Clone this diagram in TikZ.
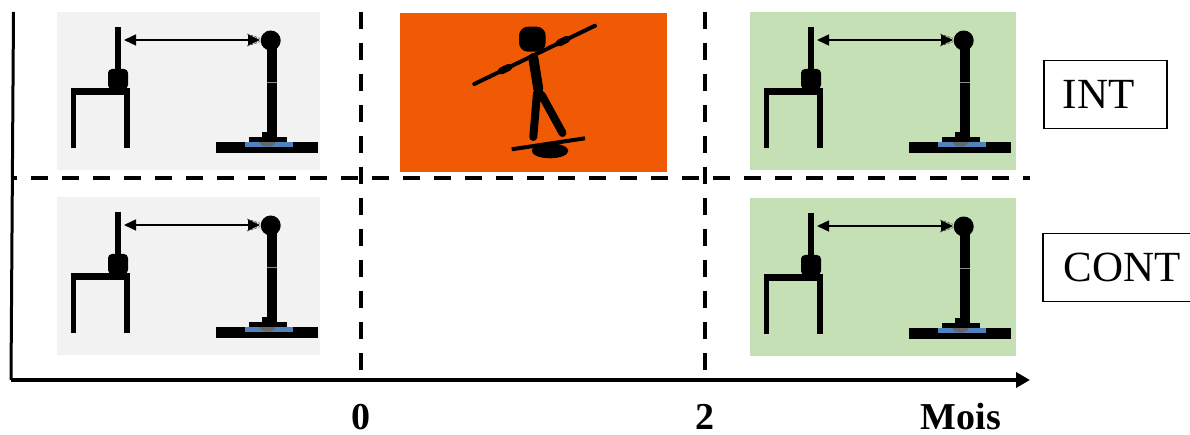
\documentclass[tikz,border=0pt]{standalone}
\usepackage{fontspec}
\setmainfont{Liberation Serif}
\usetikzlibrary{arrows.meta,positioning}

\definecolor{panelgray}{RGB}{242,242,242}
\definecolor{panelgreen}{RGB}{197,224,180}
\definecolor{panelorange}{RGB}{241,90,4}
\definecolor{padblue}{RGB}{80,130,190}

\tikzset{
  panel/.style={anchor=north west, inner sep=0pt, minimum width=263pt, minimum height=158pt},
  tagbox/.style={draw, line width=1.5pt, anchor=north west, align=left, inner ysep=0pt,
    minimum height=68pt, font=\fontsize{43}{50}\selectfont},
  cut/.style={line width=3.6pt, dash pattern=on 17pt off 14pt},
  tick/.style={anchor=base, inner sep=0pt, font=\fontsize{38}{44}\selectfont\bfseries},
  posture/.pic={
    % chair
    \fill (58,15) rectangle (63.5,60);
    \fill[rounded corners=4pt] (51,57) rectangle (71,77);
    \fill (14,76) rectangle (73,83);
    \fill (14,78) rectangle (19,136);
    \fill (67,78) rectangle (73,136);
    % subject standing on the plate
    \fill (210,36) rectangle (219.5,124);
    \draw[black!45, line width=0.6pt] (210,70) -- (219.5,70);
    \fill (213.7,28.5) circle (10);
    \fill (204.7,119.7) rectangle (219.7,125);
    \fill (158.7,130.3) rectangle (261.3,141.3);
    \fill[padblue] (188,130.3) rectangle (235.7,134.7);
    \fill[black!60] (210.5,130) ellipse (8 and 4.5);
    \fill (192.3,124.7) rectangle (229.7,129.7);
    % distance chair -- eyes
    \coordinate (-back) at (67,28);
    \coordinate (-eye) at (203,28);
    \draw[line width=1.5pt, {Triangle[length=12pt,width=11pt]}-{Triangle[length=12pt,width=11pt]}] (-back) -- (-eye);
    \draw[black!70, line width=0.8pt, dash pattern=on 2.5pt off 1.5pt] (190,22) -- (203,26.3) (190,34) -- (203,29.7);
  },
  balance/.pic={
    \fill[rounded corners=9pt] (119,13.7) rectangle (145.7,38.7);
    \draw[line width=4pt, line cap=round] (74.3,71) -- (195,12.7);
    \draw[line width=7pt, line cap=round] (101.4,57.9) -- (108.6,54.4) (159.4,29.9) -- (166.6,26.4);
    \draw[line width=10pt, line cap=round] (133.3,45) -- (138.3,76);
    \draw[line width=8pt, line cap=round] (137,80) -- (133.3,124) (141.7,82) -- (162.5,120);
    \fill (150,137.8) ellipse (18.3 and 7.5);
    \draw[line width=4pt] (111.7,136.3) -- (185,125.3);
  }
}

\begin{document}
\begin{tikzpicture}[x=1pt, y=-1pt]
    \useasboundingbox (0,0) rectangle (1190,435);

    % panels
    \node[panel, fill=panelgray] (preint) at (57,12) {};
    \node[panel, fill=panelgray] (precont) at (57,197) {};
    \node[panel, fill=panelorange, minimum width=267pt, minimum height=159pt] (train) at (400,13) {};
    \node[panel, fill=panelgreen, minimum width=266pt] (postint) at (750,12) {};
    \node[panel, fill=panelgreen, minimum width=266pt] (postcont) at (750,198) {};

    \pic (a) at (preint.north west) {posture};
    \pic (b) at (precont.north west) {posture};
    \pic (c) at (postint.north west) {posture};
    \pic (d) at (postcont.north west) {posture};
    \pic at (train.north west) {balance};

    % time axis
    \coordinate (ytop) at (13.5,12);
    \coordinate (orig) at (11,380);
    \coordinate (tend) at (1030,380);
    \draw[line width=3pt] (ytop) -- (orig);
    \draw[line width=4pt, -{Triangle[length=14pt,width=15pt]}] (orig) -- (tend);

    \coordinate (m0) at (361,12);
    \coordinate (m2) at (705,12);
    \draw[cut] (m0) -- (m0 |- orig);
    \draw[cut] (m2) -- (m2 |- orig);
    \draw[cut, dash phase=11.6pt] (12,178) -- (1030,178);

    \node[tick] (t0) at (361,429) {0};
    \node[tick] (t2) at (705,429) {2};
    \node[tick] (unit) at (961,429) {Mois};

    % groups
    \node[tagbox, text width=85pt, inner xsep=19pt] (int) at (1043,60) {INT};
    \node[tagbox, text width=116pt, inner xsep=21pt] (cont) at (1042,233) {CONT};
\end{tikzpicture}
\end{document}
